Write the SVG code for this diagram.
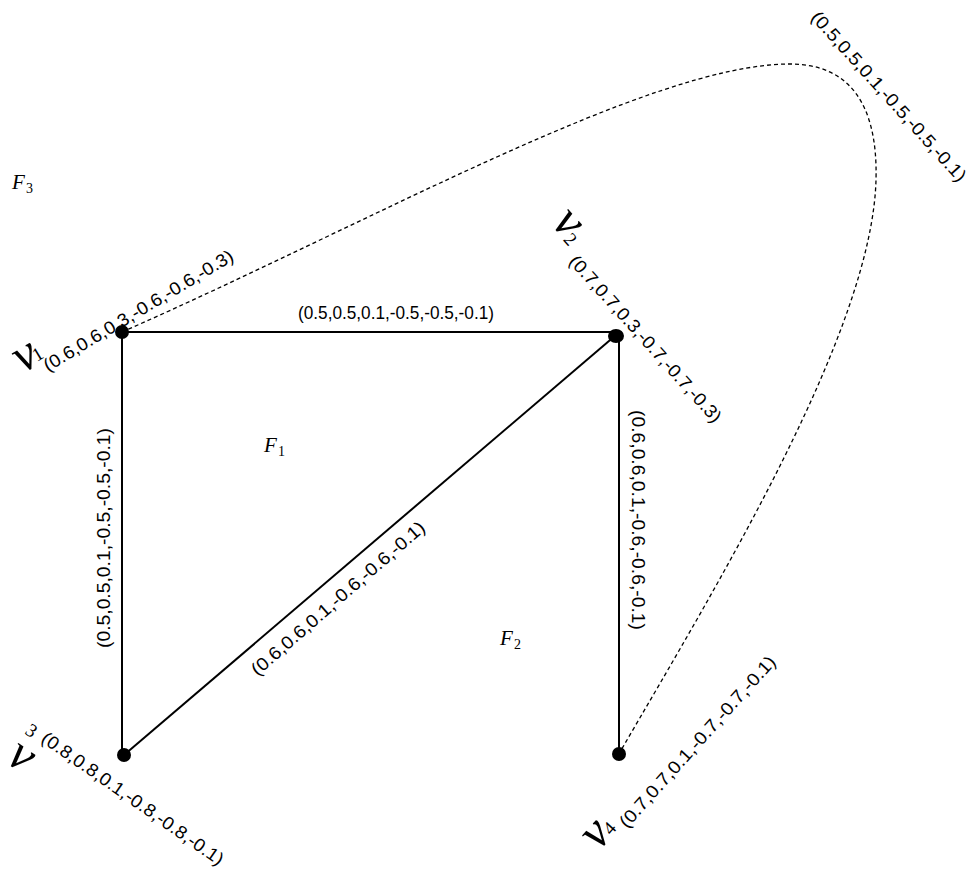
<svg xmlns="http://www.w3.org/2000/svg" width="971" height="870" viewBox="0 0 971 870">
<style>
.edge{stroke:#000;stroke-width:2;fill:none}
.dash{stroke:#000;stroke-width:1.3;fill:none;stroke-dasharray:4 3}
.lbl{font-family:"Liberation Sans",Arial,sans-serif;font-size:18px;fill:#000}
.v{font-family:"Liberation Serif","DejaVu Serif",serif;font-style:italic;font-size:50px;fill:#000}
.vs{font-family:"Liberation Serif","DejaVu Serif",serif;font-size:19px;fill:#000}
.f{font-family:"Liberation Serif","DejaVu Serif",serif;font-style:italic;font-size:21px;fill:#000}
.fs{font-family:"Liberation Serif","DejaVu Serif",serif;font-size:14px;fill:#000}
.dot{fill:#000}
</style>
<rect width="971" height="870" fill="#fff"/>
<g id="connectors">
<line class="edge" x1="122" y1="332" x2="616" y2="332"/>
<line class="edge" x1="122" y1="332" x2="122" y2="755"/>
<line class="edge" x1="619" y1="335" x2="619" y2="754"/>
<line class="edge" x1="124" y1="755" x2="616" y2="335"/>
<path class="dash" d="M122,332 C372,222 650,64 790,64 C850,64 878,105 876,180 C872,330 720,580 620,752"/>
<g transform="translate(396,319)"><text class="lbl" text-anchor="middle" textLength="196" lengthAdjust="spacingAndGlyphs">(0.5,0.5,0.1,-0.5,-0.5,-0.1)</text></g>
<g transform="translate(110,538) rotate(-90)"><text class="lbl" text-anchor="middle" textLength="220" lengthAdjust="spacingAndGlyphs">(0.5,0.5,0.1,-0.5,-0.5,-0.1)</text></g>
<g transform="translate(632,520) rotate(90)"><text class="lbl" text-anchor="middle" textLength="220" lengthAdjust="spacingAndGlyphs">(0.6,0.6,0.1,-0.6,-0.6,-0.1)</text></g>
<g transform="translate(342,603) rotate(-41)"><text class="lbl" text-anchor="middle" textLength="224" lengthAdjust="spacingAndGlyphs">(0.6,0.6,0.1,-0.6,-0.6,-0.1)</text></g>
<g transform="translate(810,18) rotate(48)"><text class="lbl" textLength="222" lengthAdjust="spacingAndGlyphs">(0.5,0.5,0.1,-0.5,-0.5,-0.1)</text></g>
</g>
<g id="v1">
<ellipse class="dot" cx="122" cy="332" rx="7" ry="7"/>
<g transform="translate(28,359) rotate(-31)"><text class="v" x="-12" y="10">v</text><text class="vs" x="6" y="7">1</text></g>
<g transform="translate(48,372) rotate(-31)"><text class="lbl" textLength="218" lengthAdjust="spacingAndGlyphs">(0.6,0.6,0.3,-0.6,-0.6,-0.3)</text></g>
</g>
<g id="v2">
<ellipse class="dot" cx="616" cy="336" rx="8" ry="7"/>
<g transform="translate(566,226) rotate(48)"><text class="v" x="-12" y="10">v</text><text class="vs" x="8" y="12">2</text></g>
<g transform="translate(568,262) rotate(48)"><text class="lbl" textLength="218" lengthAdjust="spacingAndGlyphs">(0.7,0.7,0.3,-0.7,-0.7,-0.3)</text></g>
</g>
<g id="v3">
<ellipse class="dot" cx="124" cy="755" rx="7" ry="7"/>
<g transform="translate(20,760) rotate(35)"><text class="v" x="-12" y="10">v</text></g>
<g transform="translate(24,733) rotate(35)"><text class="vs" x="0" y="0">3</text></g>
<g transform="translate(40,741) rotate(35)"><text class="lbl" textLength="218" lengthAdjust="spacingAndGlyphs">(0.8,0.8,0.1,-0.8,-0.8,-0.1)</text></g>
</g>
<g id="v4">
<ellipse class="dot" cx="619" cy="754" rx="7" ry="7"/>
<g transform="translate(599,836) rotate(-48)"><text class="v" x="-12" y="10">v</text><text class="vs" x="8" y="9">4</text></g>
<g transform="translate(627,829) rotate(-48)"><text class="lbl" textLength="224" lengthAdjust="spacingAndGlyphs">(0.7,0.7,0.1,-0.7,-0.7,-0.1)</text></g>
</g>
<g id="F1"><text class="f" x="264" y="452">F</text><text class="fs" x="278" y="456">1</text></g>
<g id="F2"><text class="f" x="500" y="645">F</text><text class="fs" x="514" y="649">2</text></g>
<g id="F3"><text class="f" x="12" y="189">F</text><text class="fs" x="26" y="193">3</text></g>
</svg>
